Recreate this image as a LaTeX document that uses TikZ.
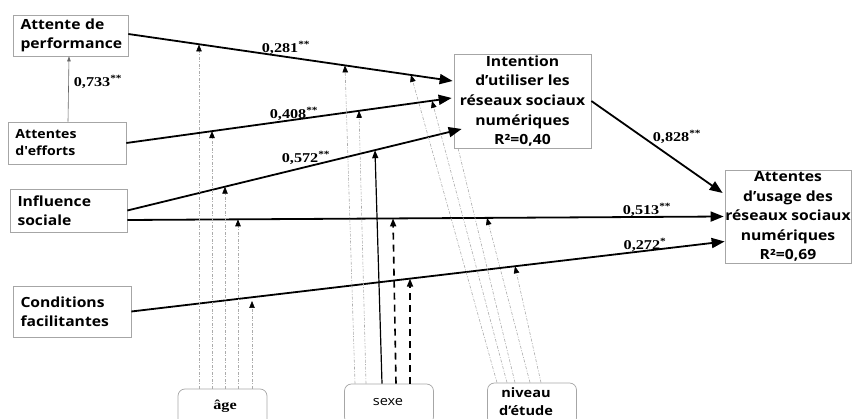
\documentclass[tikz,border=0pt]{standalone}
\usepackage{fontspec}
\usetikzlibrary{arrows.meta,calc}
\newfontfamily\bxf[FakeStretch=1.12]{Open Sans}
\newfontfamily\nmf[FakeStretch=1.2]{Liberation Serif}
\begin{document}
\begin{tikzpicture}[x=1pt,y=-1pt,
  box/.style={draw=gray!70, line width=0.7pt, inner sep=0pt},
  lbox/.style={box, align=left, inner xsep=7.5pt, text width=#1},
  bigf/.style={font=\bxf\bfseries\fontsize{14}{19}\selectfont},
  smallf/.style={font=\bxf\bfseries\fontsize{12.6}{17}\selectfont},
  ctext/.style={font=\bxf\bfseries\fontsize{14}{19.6}\selectfont, align=center, inner sep=0pt},
  rbox/.style={draw=gray!70, line width=0.7pt, rounded corners=7pt, minimum width=89pt, minimum height=40pt},
  lab/.style={font=\nmf\bfseries\fontsize{13.5}{14}\selectfont, inner sep=0pt},
  main/.style={line width=1.8pt, -{Triangle[length=13pt,width=10pt]}},
  modg/.style={draw=gray!65, line width=0.6pt, dash pattern=on 3pt off 1.5pt on 1pt off 1.5pt,
               -{Triangle[length=7pt,width=5.5pt,color=black]}},
  modg0/.style={draw=gray!65, line width=0.6pt, dash pattern=on 3pt off 1.5pt on 1pt off 1.5pt},
  mods/.style={line width=1.2pt, -{Triangle[length=8pt,width=6pt]}},
  modd/.style={line width=1.6pt, dash pattern=on 7pt off 5pt, -{Triangle[length=8pt,width=6pt]}},
]
\useasboundingbox (0,0) rectangle (852,419);

% left boxes
\node[lbox=100pt, bigf, minimum height=41pt] (perf) at (70.5,35.5) {Attente de\\performance};
\node[lbox=103pt, smallf, minimum height=42pt] (eff) at (67,143) {Attentes\\d\textquotesingle efforts};
\node[lbox=102pt, bigf, minimum height=43pt] (infl) at (68.5,210.5) {Influence\\sociale};
\node[lbox=103pt, bigf, minimum height=51pt] (cond) at (72,311.5) {Conditions\\facilitantes};

% right boxes
\node[box, minimum width=137pt, minimum height=94pt] (intent) at (522.5,101) {};
\node[ctext] (intentT) at (intent.center) {Intention\\d’utiliser les\\réseaux sociaux\\numériques\\R²=0,40};
\node[box, minimum width=126pt, minimum height=93pt] (usage) at (788,216.5) {};
\node[ctext] (usageT) at (usage.center) {Attentes\\d’usage des\\réseaux sociaux\\numériques\\R²=0,69};

% bottom boxes
\node[rbox] (age) at (222.5,409) {};
\node[font=\nmf\bfseries\fontsize{13.5}{14}\selectfont, inner sep=0pt] (ageT) at (225,406) {âge};
\node[rbox] (sexe) at (389,404) {};
\node[font=\bxf\fontsize{13}{14}\selectfont, inner sep=0pt] (sexeT) at (388,402) {sexe};
\node[rbox, minimum height=42pt] (niv) at (532,404) {};
\node[font=\bxf\bfseries\fontsize{13}{18}\selectfont, align=center, inner sep=0pt] (nivT) at (526,402) {niveau\\d’étude};

% main paths
\draw[main] ([yshift=1.5pt]perf.east) -- ([xshift=-1pt,yshift=20pt]intent.west);
\draw[main] (eff.east) -- ([xshift=-2pt,yshift=3pt]intent.west);
\draw[main] (infl.east) -- ([xshift=8pt,yshift=-28pt]intent.west);
\draw[main] ([yshift=-9.5pt]infl.east) -- ([xshift=-1pt]usage.west);
\draw[main] (cond.east) -- ([yshift=-25pt]usage.west);
\draw[main] (intent.east) -- ([xshift=-2pt,yshift=23.5pt]usage.west);
\draw[gray!80!black, line width=0.6pt, -{Triangle[length=5pt,width=3.5pt]}] ([xshift=1pt]eff.north) -- ([xshift=-1.5pt]perf.south);

% labels
\node[lab] (l1) at (286,48) {0,281\textsuperscript{**}};
\node[lab] (l2) at (294,114) {0,408\textsuperscript{**}};
\node[lab] (l3) at (306,158) {0,572\textsuperscript{**}};
\node[lab] (l4) at (647,210) {0,513\textsuperscript{**}};
\node[lab] (l5) at (645,245) {0,272\textsuperscript{*}};
\node[lab] (l6) at (677,137) {0,828\textsuperscript{**}};
\node[lab] (l7) at (98,82) {0,733\textsuperscript{**}};

% moderator targets
\coordinate (a1) at (199,44.5);
\coordinate (a2) at (212,131.1);
\coordinate (a3) at (225,186.7);
\coordinate (a4) at (238,219.3);
\coordinate (a5) at (252,301);
\coordinate (s1) at (345,65.4);
\coordinate (s2) at (359,110.8);
\coordinate (s3) at (375,150.2);
\coordinate (s4) at (393,218.4);
\coordinate (s5) at (410,278.6);
\coordinate (n1) at (411,74.9);
\coordinate (n2) at (432,100.8);
\coordinate (n3) at (458,148);
\coordinate (n4) at (487,217.9);
\coordinate (n5) at (515,266.3);

% age
\draw[modg] ([xshift=-23.5pt]age.north) -- (a1);
\draw[modg] ([xshift=-10.5pt]age.north) -- (a2);
\draw[modg] ([xshift=2.5pt]age.north) -- (a3);
\draw[modg] ([xshift=15.5pt]age.north) -- (a4);
\draw[modg] ([xshift=29.5pt]age.north) -- (a5);
% sexe
\draw[modg] ([xshift=-34pt]sexe.north) -- (s1);
\draw[modg] ([xshift=-23pt]sexe.north) -- (s2);
\draw[mods] ([xshift=-7pt]sexe.north) -- (s3);
\draw[modd] ([xshift=7pt]sexe.north) -- (s4);
\draw[modd] ([xshift=21pt]sexe.north) -- (s5);
% niveau
\draw[modg] ([xshift=-35pt]niv.north) -- (n1);
\draw[modg] ([xshift=-25pt]niv.north) -- (n2);
\draw[modg0] ([xshift=-17pt]niv.north) -- (n3);
\draw[modg] ([xshift=-2pt]niv.north) -- (n4);
\draw[modg] ([xshift=9pt]niv.north) -- (n5);
\end{tikzpicture}
\end{document}
